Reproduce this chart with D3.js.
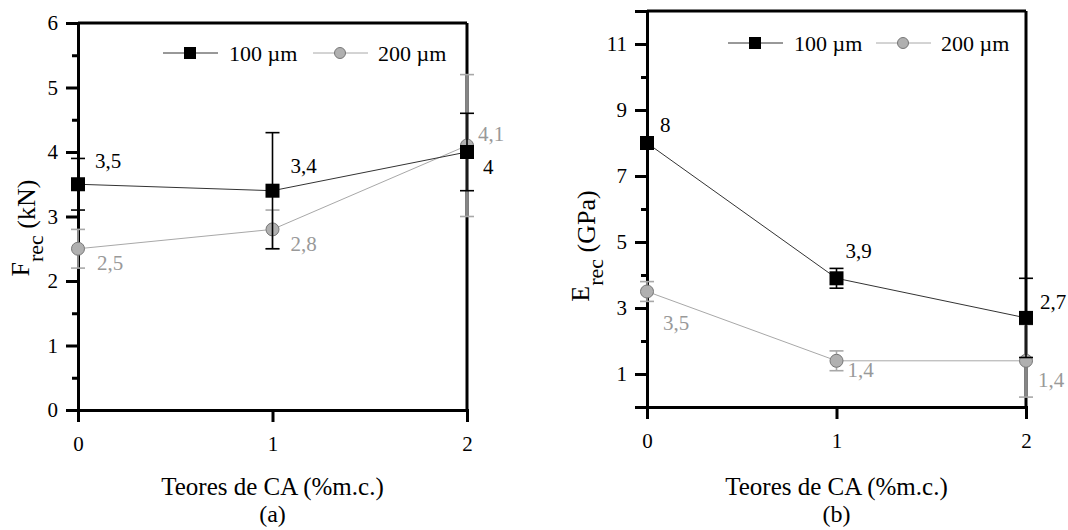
<!DOCTYPE html>
<html>
<head>
<meta charset="utf-8">
<script src="https://cdn.jsdelivr.net/npm/d3@7"></script>
<style>
  html, body { margin: 0; padding: 0; background: #fff; }
  svg { display: block; }
  svg text { font-family: "Liberation Serif", "Times New Roman", serif !important; }
</style>
</head>
<body>
<svg id="chart" width="1068" height="530"></svg>
<script>
// ---------- data ----------
const categories = [0, 1, 2];
const seriesNames = ["100 \u00b5m", "200 \u00b5m"];

// (a) Frec (kN)
const fMean100 = [3.5, 3.4, 4.0];
const fErr100  = [0.4, 0.9, 0.6];
const fMean200 = [2.5, 2.8, 4.1];
const fErr200  = [0.3, 0.3, 1.1];
const fTicksMajor = [0, 1, 2, 3, 4, 5, 6];
const fTicksMinor = [0.5, 1.5, 2.5, 3.5, 4.5, 5.5];

// (b) Erec (GPa)
const eMean100 = [8, 3.9, 2.7];
const eErr100  = [0.15, 0.3, 1.2];
const eMean200 = [3.5, 1.4, 1.4];
const eErr200  = [0.3, 0.3, 1.1];
const eTicksMajor = [1, 3, 5, 7, 9, 11];
const eTicksMinor = [2, 4, 6, 8, 10];

const xTitle = "Teores de CA (%m.c.)";

// ---------- drawing ----------
const SERIF = '"Liberation Serif", "Times New Roman", serif';
const svg = d3.select("#chart");
const fmt = v => String(v).replace(".", ",");

function panel(cfg) {
  const g = svg.append("g");
  const x = d3.scaleLinear().domain([0, 2]).range(cfg.xr);
  const y = d3.scaleLinear().domain(cfg.yDomain).range(cfg.yr);

  // frame top & right
  g.append("line").attr("x1", x(0)).attr("x2", x(2)).attr("y1", y(cfg.yDomain[1])).attr("y2", y(cfg.yDomain[1]))
    .attr("stroke", "#000").attr("stroke-width", 3);
  g.append("line").attr("x1", x(2)).attr("x2", x(2)).attr("y1", y(cfg.yDomain[0])).attr("y2", y(cfg.yDomain[1]))
    .attr("stroke", "#000").attr("stroke-width", 3);

  // y axis major
  const yMaj = g.append("g").attr("transform", `translate(${x(0)},0)`)
    .call(d3.axisLeft(y).tickValues(cfg.yMajor).tickSize(12).tickPadding(8).tickFormat(d3.format("d")));
  yMaj.attr("font-family", SERIF);
  yMaj.select(".domain").attr("stroke-width", 3);
  yMaj.selectAll(".tick line").attr("stroke-width", 3);
  yMaj.selectAll(".tick text").attr("font-size", 21).style("font-family", SERIF).attr("fill", "#000");
  // y axis minor
  const yMin = g.append("g").attr("transform", `translate(${x(0)},0)`)
    .call(d3.axisLeft(y).tickValues(cfg.yMinor).tickSize(6).tickFormat(""));
  yMin.select(".domain").remove();
  yMin.selectAll(".tick line").attr("stroke-width", 3);

  // x axis
  const xAx = g.append("g").attr("transform", `translate(0,${y(cfg.yDomain[0])})`)
    .call(d3.axisBottom(x).tickValues(categories).tickSize(12).tickPadding(14).tickFormat(d3.format("d")));
  xAx.attr("font-family", SERIF);
  xAx.select(".domain").attr("stroke-width", 3);
  xAx.selectAll(".tick line").attr("stroke-width", 3);
  xAx.selectAll(".tick text").attr("font-size", 21).style("font-family", SERIF).attr("fill", "#000");

  // series
  const series = [
    { mean: cfg.m200, err: cfg.e200, line: "#a8a8a8", ebar: "#a8a8a8", text: "#999", shape: "circle", offs: cfg.off200 },
    { mean: cfg.m100, err: cfg.e100, line: "#333", ebar: "#000", text: "#000", shape: "square", offs: cfg.off100 }
  ];
  series.forEach(s => {
    const pts = categories.map((c, i) => ({ c, v: s.mean[i], e: s.err[i], i }));
    const eb = g.append("g");
    pts.forEach(p => {
      eb.append("line").attr("x1", x(p.c)).attr("x2", x(p.c)).attr("y1", y(p.v - p.e)).attr("y2", y(p.v + p.e))
        .attr("stroke", s.ebar).attr("stroke-width", 1.6);
      [p.v - p.e, p.v + p.e].forEach(v => {
        eb.append("line").attr("x1", x(p.c) - 7).attr("x2", x(p.c) + 7).attr("y1", y(v)).attr("y2", y(v))
          .attr("stroke", s.ebar).attr("stroke-width", 1.6);
      });
    });
    g.append("path").datum(pts)
      .attr("d", d3.line().x(p => x(p.c)).y(p => y(p.v)))
      .attr("fill", "none").attr("stroke", s.line).attr("stroke-width", 1);
    pts.forEach(p => {
      if (s.shape === "square") {
        g.append("rect").attr("x", x(p.c) - 7).attr("y", y(p.v) - 7).attr("width", 14).attr("height", 14).attr("fill", "#000");
      } else {
        g.append("circle").attr("cx", x(p.c)).attr("cy", y(p.v)).attr("r", 6.5)
          .attr("fill", "#b0b0b0").attr("stroke", "#777").attr("stroke-width", 1);
      }
    });
    pts.forEach(p => {
      g.append("text").attr("x", x(p.c) + s.offs[p.i][0]).attr("y", y(p.v) + s.offs[p.i][1])
        .attr("dy", "0.35em").attr("font-size", 21).style("font-family", SERIF).attr("fill", s.text).text(fmt(p.v));
    });
  });

  // legend
  const lg = g.append("g").attr("transform", `translate(${cfg.legX},${cfg.legY})`);
  lg.append("line").attr("x1", 0).attr("x2", 55).attr("stroke", "#333").attr("stroke-width", 1);
  lg.append("rect").attr("x", 21).attr("y", -6).attr("width", 12).attr("height", 12).attr("fill", "#000");
  lg.append("text").attr("x", 66).attr("dy", "0.35em").attr("font-size", 22).style("font-family", SERIF).text(seriesNames[0]);
  lg.append("line").attr("x1", cfg.legGap).attr("x2", cfg.legGap + 55).attr("stroke", "#a8a8a8").attr("stroke-width", 1);
  lg.append("circle").attr("cx", cfg.legGap + 27).attr("cy", 0).attr("r", 5.5).attr("fill", "#b0b0b0").attr("stroke", "#777");
  lg.append("text").attr("x", cfg.legGap + 65).attr("dy", "0.35em").attr("font-size", 22).style("font-family", SERIF).text(seriesNames[1]);

  // x title + panel letter
  const cx = x(1);
  svg.append("text").attr("x", cx).attr("y", 495).attr("text-anchor", "middle").attr("font-size", 25).style("font-family", SERIF).text(xTitle);
  svg.append("text").attr("x", cx).attr("y", 522).attr("text-anchor", "middle").attr("font-size", 24).style("font-family", SERIF).text(cfg.letter);

  // y title
  const yt = svg.append("text").attr("transform", `translate(${cfg.ytX},${cfg.ytY}) rotate(-90)`)
    .attr("text-anchor", "middle").attr("font-size", 26).style("font-family", SERIF);
  yt.append("tspan").text(cfg.ytMain);
  yt.append("tspan").attr("font-size", 22).attr("dy", 14).text("rec");
  yt.append("tspan").attr("dy", -8).text(cfg.ytUnit);
}

panel({
  xr: [78, 467], yr: [410, 23], yDomain: [0, 6],
  yMajor: fTicksMajor, yMinor: fTicksMinor,
  m100: fMean100, e100: fErr100, m200: fMean200, e200: fErr200,
  off100: [[17, -24], [18, -25], [16, 15]],
  off200: [[19, 14], [18, 14], [11, -12]],
  legX: 163, legY: 53, legGap: 150,
  letter: "(a)", ytX: 29, ytY: 228, ytMain: "F", ytUnit: " (kN)"
});

panel({
  xr: [647, 1026], yr: [407, 11], yDomain: [0, 12],
  yMajor: eTicksMajor, yMinor: eTicksMinor,
  m100: eMean100, e100: eErr100, m200: eMean200, e200: eErr200,
  off100: [[13, -18], [9, -28], [14, -16]],
  off200: [[16, 31], [11, 9], [12, 19]],
  legX: 728, legY: 43, legGap: 148,
  letter: "(b)", ytX: 589, ytY: 246, ytMain: "E", ytUnit: " (GPa)"
});
</script>
</body>
</html>
